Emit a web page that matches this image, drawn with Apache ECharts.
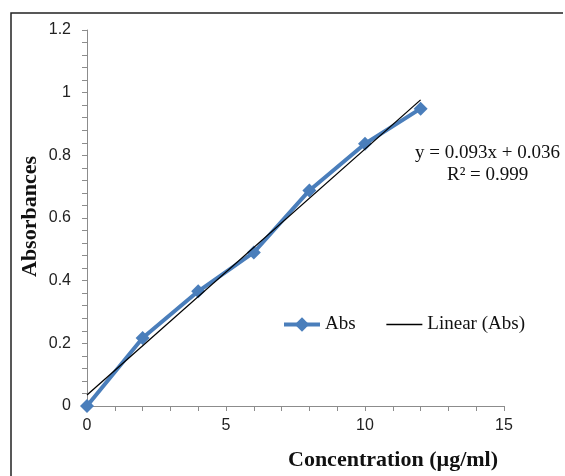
<!DOCTYPE html>
<html>
<head>
<meta charset="utf-8">
<script src="https://cdn.jsdelivr.net/npm/echarts@6/dist/echarts.min.js"></script>
<style>html,body{margin:0;padding:0;background:#fff}#c{width:565px;height:476px}</style>
</head>
<body>
<div id="c"></div>
<script>
var concentration = [0, 2, 4, 6, 8, 10, 12];
var absorbance = [0.0, 0.217, 0.366, 0.49, 0.688, 0.837, 0.949];
var trendX = [0, 12];
var trendY = [0.035, 0.977];
var yTicks = [0, 0.2, 0.4, 0.6, 0.8, 1, 1.2];
var xTicks = [0, 5, 10, 15];
var equationText = 'y = 0.093x + 0.036';
var r2Text = 'R\u00b2 = 0.999';

var chart = echarts.init(document.getElementById('c'), null, {renderer: 'canvas'});
var serif = '"Liberation Serif", "Times New Roman", serif';
var sans = '"Liberation Sans", "Open Sans", sans-serif';
var axisGrey = '#8c8c8c';

chart.setOption({
  animation: false,
  backgroundColor: '#fff',
  grid: {left: 87, right: 61, top: 30, bottom: 70},
  xAxis: {
    type: 'value', min: xTicks[0], max: xTicks[xTicks.length - 1], interval: 5,
    axisLine: {show: true, onZero: false, lineStyle: {color: axisGrey, width: 1}},
    axisTick: {show: true, inside: false, length: 5, lineStyle: {color: axisGrey}},
    minorTick: {show: true, splitNumber: 5, length: 5, lineStyle: {color: axisGrey}},
    splitLine: {show: false},
    axisLabel: {color: '#222', fontFamily: sans, fontSize: 16, margin: 12}
  },
  yAxis: {
    type: 'value', min: yTicks[0], max: yTicks[yTicks.length - 1], interval: 0.2,
    axisLine: {show: true, lineStyle: {color: axisGrey, width: 1}},
    axisTick: {show: true, inside: false, length: 5, lineStyle: {color: axisGrey}},
    minorTick: {show: true, splitNumber: 5, length: 5, lineStyle: {color: axisGrey}},
    splitLine: {show: false},
    axisLabel: {color: '#222', fontFamily: sans, fontSize: 16, margin: 16}
  },
  legend: {
    left: 277, top: 310,
    itemWidth: 36, itemHeight: 18, itemGap: 30,
    textStyle: {fontFamily: serif, fontSize: 19, color: '#111'},
    data: [
      {name: 'Abs', itemStyle: {color: '#4a7ebb'}, lineStyle: {width: 4, color: '#4a7ebb'}},
      {name: 'Linear (Abs)', itemStyle: {opacity: 0}, lineStyle: {width: 1.5, color: '#000'}}
    ]
  },
  graphic: [
    {type: 'polyline', shape: {points: [[11, 480], [11, 13], [563, 13]]},
     style: {stroke: '#222', lineWidth: 1.5, fill: null}, silent: true},
    {type: 'text', left: 415, top: 144,
     style: {text: equationText, font: '19px ' + serif, fill: '#111'}},
    {type: 'text', left: 447, top: 166,
     style: {text: r2Text, font: '19px ' + serif, fill: '#111'}},
    {type: 'text', left: 288, top: 449,
     style: {text: 'Concentration (\u00b5g/ml)', font: 'bold 22px ' + serif, fill: '#111'}},
    {type: 'text', left: 19, top: 156, rotation: Math.PI / 2,
     originX: 0, originY: 0,
     style: {text: 'Absorbances', font: 'bold 22px ' + serif, fill: '#111'}}
  ],
  series: [
    {
      name: 'Abs', type: 'line',
      data: concentration.map(function (x, i) { return [x, absorbance[i]]; }),
      symbol: 'diamond', symbolSize: 14,
      lineStyle: {color: '#4a7ebb', width: 4},
      itemStyle: {color: '#4a7ebb'},
      z: 2
    },
    {
      name: 'Linear (Abs)', type: 'line',
      data: trendX.map(function (x, i) { return [x, trendY[i]]; }),
      symbol: 'none',
      lineStyle: {color: '#000', width: 1.3},
      itemStyle: {color: '#000'},
      z: 3
    }
  ]
});
</script>
</body>
</html>
